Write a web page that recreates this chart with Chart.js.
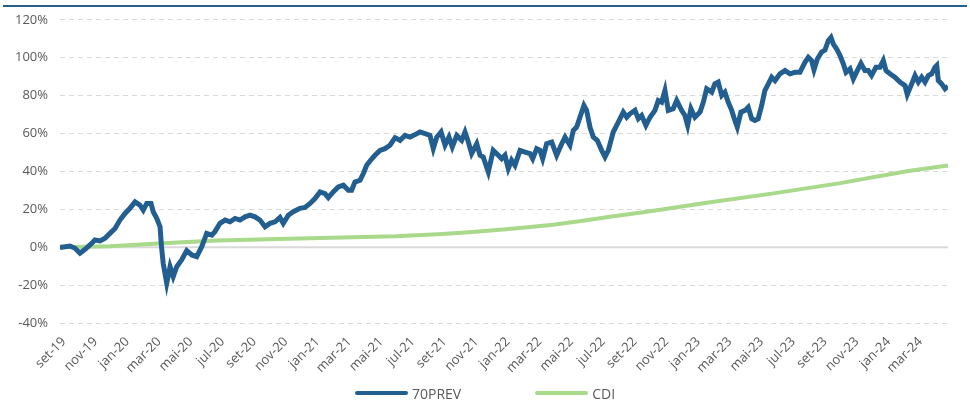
<!DOCTYPE html>
<html><head><meta charset="utf-8">
<script src="https://cdn.jsdelivr.net/npm/chart.js@4"></script>
<style>
html,body{margin:0;padding:0;background:#fff;}
#wrap{position:relative;width:970px;height:400px;overflow:hidden;font-family:"Open Sans",sans-serif;}
#topRule{position:absolute;left:3px;right:3px;top:4.5px;height:2.5px;background:#245f8f;}
#c{position:absolute;left:0;top:0;}
#legend{position:absolute;left:0;right:0;top:383px;height:20px;display:flex;justify-content:center;align-items:center;gap:74px;font-size:14px;color:#595959;}
.item{display:flex;align-items:center;}
.sw{display:inline-block;width:53px;height:4px;border-radius:2px;margin-right:4px;}
</style></head>
<body><div id="wrap"><div id="topRule"></div><canvas id="c" width="970" height="400"></canvas><div id="legend"></div></div>
<script>
// X tick labels (every two months, starting Sep 2019)
const xLabels = ['set-19','nov-19','jan-20','mar-20','mai-20','jul-20','set-20','nov-20','jan-21','mar-21','mai-21','jul-21','set-21','nov-21','jan-22','mar-22','mai-22','jul-22','set-22','nov-22','jan-23','mar-23','mai-23','jul-23','set-23','nov-23','jan-24','mar-24'];
const tickMonths = xLabels.map((_, i) => i * 2);

// 70PREV: months since Sep 2019 and cumulative return (%)
const prevMonths = [0,0.11,0.63,0.95,1.26,1.58,1.89,2.21,2.52,2.84,3.15,3.47,3.78,4.10,4.41,4.73,5.04,5.25,5.47,5.74,5.88,6.10,6.31,6.40,6.51,6.73,6.94,7.14,7.36,7.67,7.99,8.31,8.62,8.94,9.25,9.57,9.77,10.09,10.41,10.72,11.04,11.35,11.67,11.98,12.30,12.61,12.93,13.24,13.56,13.87,14.08,14.40,14.71,15.13,15.45,15.77,16.08,16.40,16.71,16.92,17.23,17.55,17.87,18.18,18.39,18.60,18.92,19.13,19.34,19.55,19.86,20.18,20.49,20.81,21.13,21.44,21.76,22.07,22.39,22.70,23.02,23.33,23.54,23.76,24.03,24.28,24.53,24.74,25.02,25.33,25.54,25.75,25.96,26.28,26.49,26.69,27.01,27.32,27.64,27.85,28.06,28.27,28.48,28.69,29.01,29.32,29.64,29.81,30.06,30.27,30.44,30.69,31.01,31.32,31.64,31.85,32.16,32.37,32.58,32.79,33.04,33.21,33.42,33.63,33.88,34.16,34.37,34.58,34.89,35.21,35.52,35.74,35.94,36.26,36.47,36.68,36.95,37.21,37.52,37.73,37.94,38.15,38.36,38.67,38.89,39.20,39.41,39.58,39.79,40.04,40.36,40.57,40.78,41.10,41.30,41.51,41.73,41.93,42.14,42.36,42.56,42.71,42.94,43.20,43.40,43.62,43.82,44.03,44.25,44.45,44.67,44.88,45.09,45.40,45.72,46.03,46.35,46.66,46.98,47.19,47.40,47.55,47.76,48.03,48.24,48.45,48.62,48.77,48.98,49.19,49.40,49.57,49.82,50.03,50.28,50.51,50.76,50.97,51.18,51.46,51.71,51.92,52.09,52.34,52.65,52.97,53.29,53.43,53.71,53.92,54.13,54.34,54.55,54.76,54.97,55.18,55.29,55.39,55.60,55.81,56.00];
const prevValues = [0,0,0.6,-0.6,-3.2,-1.1,1.2,3.8,3.3,4.7,7.3,9.9,14.3,17.8,20.5,23.9,22.2,19.6,23.1,23.1,18.7,15.2,10.8,0.3,-8.5,-19,-10.3,-15.5,-10.3,-6.7,-1.8,-4.1,-5,0.3,7.3,6.4,8.2,12.6,14.3,13.4,15.2,14.3,16,16.9,16,14.3,10.8,12.6,13.4,15.7,12.6,16.9,18.7,20.5,21,23.1,25.7,29.2,28.3,26.2,29.2,31.8,32.7,30.1,30.1,34.4,35.3,38.9,43.2,45.5,48.5,51.1,52,53.8,57.8,56.4,59,58.1,59.4,60.8,59.9,59,52,58.1,60.8,53.8,58.1,52.9,59,56.4,60.8,55.5,49.4,54.6,48.5,47.6,39.7,51.1,48.5,46.7,48.5,41.5,45.9,43.2,51.1,50.2,49.4,46.7,52,51.1,46.7,54.6,55.5,48.5,54.6,58.1,53.8,61.6,63.4,68.6,74.8,72.2,63.4,58.1,56.4,51.1,47.6,51.1,60.8,66,71.3,68.6,70.4,72.2,67.8,69.5,64.3,68.6,72.2,77.4,76.5,82.7,72.2,73.1,77.4,72.2,69.5,64.3,73.1,68.6,71.3,76.5,83.6,81.8,86.2,87.1,80.1,81.8,76.5,72.2,66.9,63.4,71.3,72.2,73.9,67.8,66.9,67.8,74.8,82.7,86.2,89.7,87.9,91.5,93.2,91.5,92.3,92.3,97.6,100.2,98.5,93.6,99.3,103,104,109,110.7,107.2,104.6,101.1,96.7,92.3,94.1,88.8,93.2,97,93.2,93.2,90.6,95,95,98.5,93.2,91.5,89.7,87.1,85.3,80.6,86.2,90.6,87.1,89.7,87.1,90.6,91.5,95,95.9,87.9,86.2,83.6,85];

// CDI: months since Sep 2019 and cumulative return (%)
const cdiMonths = [0,3.15,6.2,9.9,16.4,21.2,24.1,26.0,27.75,29.0,31.1,33.2,34.9,36.9,40.8,45.0,49.2,53.4,56.0];
const cdiValues = [0,0.5,2.0,3.6,4.8,5.8,7.0,8.0,9.2,10.1,11.9,14.2,16.3,18.6,23.5,28.4,33.8,40.1,43.1];

const seriesNames = ['70PREV','CDI'];
const seriesColors = ['#225e8f','#a9d98b'];

const toPts = (xs, ys) => xs.map((x, i) => ({x: x, y: ys[i]}));

const zeroLine = {
  id: 'zeroLine',
  beforeDatasetsDraw(chart) {
    const ctx = chart.ctx;
    const y = chart.scales.y.getPixelForValue(0);
    const {left, right} = chart.chartArea;
    ctx.save();
    ctx.strokeStyle = '#d9d9d9';
    ctx.lineWidth = 2;
    ctx.beginPath();
    ctx.moveTo(left, y);
    ctx.lineTo(right, y);
    ctx.stroke();
    ctx.restore();
  }
};

const font = {family: '"Open Sans", sans-serif', size: 13};

const chart = new Chart(document.getElementById('c'), {
  type: 'line',
  data: {
    datasets: [
      {label: seriesNames[0], data: toPts(prevMonths, prevValues), borderColor: seriesColors[0], backgroundColor: seriesColors[0], borderWidth: 5, pointRadius: 0, tension: 0, fill: false, order: 0},
      {label: seriesNames[1], data: toPts(cdiMonths, cdiValues), borderColor: seriesColors[1], backgroundColor: seriesColors[1], borderWidth: 4, pointRadius: 0, tension: 0, fill: false, order: 1}
    ]
  },
  options: {
    responsive: false,
    animation: false,
    layout: {padding: {top: 19, right: 22, left: 0, bottom: 0}},
    plugins: {legend: {display: false}, tooltip: {enabled: false}},
    scales: {
      x: {
        type: 'linear', min: 0, max: 56,
        afterBuildTicks: s => { s.ticks = tickMonths.map(v => ({value: v})); },
        afterFit: s => { s.height = 77; },
        grid: {display: false, drawTicks: false},
        border: {display: false},
        ticks: {
          autoSkip: false, maxRotation: 45, minRotation: 45, padding: 11, labelOffset: 4,
          color: '#595959', font: font,
          callback: v => { const i = tickMonths.indexOf(v); return i >= 0 ? xLabels[i] : null; }
        }
      },
      y: {
        min: -40, max: 120,
        afterFit: s => { s.width = 60; },
        grid: {color: c => (c.tick && c.tick.value === 0) ? 'rgba(0,0,0,0)' : '#d9d9d9', lineWidth: 1, drawTicks: false},
        border: {display: false, dash: [5, 4]},
        ticks: {stepSize: 20, padding: 12, color: '#595959', font: font, callback: v => v + '%'}
      }
    }
  },
  plugins: [zeroLine]
});

// HTML legend built from the chart's datasets
const legendEl = document.getElementById('legend');
chart.data.datasets.forEach(ds => {
  const item = document.createElement('div');
  item.className = 'item';
  const sw = document.createElement('span');
  sw.className = 'sw';
  sw.style.background = ds.borderColor;
  const t = document.createElement('span');
  t.textContent = ds.label;
  item.appendChild(sw);
  item.appendChild(t);
  legendEl.appendChild(item);
});
</script>
</body></html>
